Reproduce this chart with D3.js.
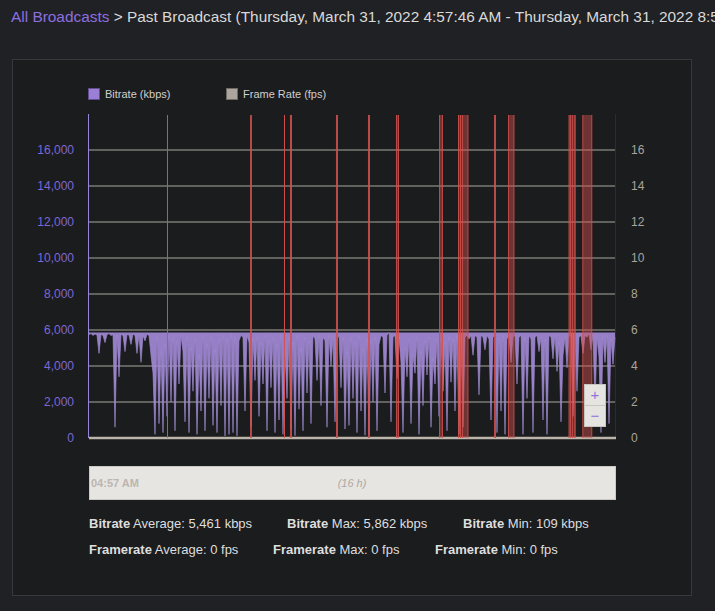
<!DOCTYPE html>
<html>
<head>
<meta charset="utf-8">
<style>
    body { margin: 0; background: #202124; }
    svg text { font-family: "Liberation Sans", Arial, sans-serif; }
</style>
</head>
<body>
<div id="chart"></div>
<script src="https://cdn.jsdelivr.net/npm/d3@7/dist/d3.min.js"></script>
<script>

//////////////////// data ////////////////////
let START = new Date(2022, 2, 31, 4, 57, 46);
let SPAN_MIN = 960;
let STEP_MIN = SPAN_MIN * 2 / 527;

// bitrate (kbps), one sample every STEP_MIN minutes
let bitrate = [
    5750, 5800, 5700, 5780, 5720, 4700, 5760, 5700, 5300, 5750, 5800, 5700, 5740, 600, 5700, 3400,
    5760, 5700, 4800, 5750, 5720, 5200, 5780, 5700, 4700, 5750, 4200, 5700, 5400, 5760, 5700, 4600, 3600,
    200, 5600, 800, 4800, 300, 5200, 1200,
    5700, 2000, 5600, 400, 5400, 3000, 5700,
    4800, 900, 5600, 300, 5000, 2600, 5500, 200, 4600, 1500, 5700, 400, 5200, 2200, 5600, 700, 4900, 300, 5500, 1800,
    5700, 109, 5500, 200, 5800, 300, 5600, 120, 5400,
    5700, 5600, 1500, 5700, 5300, 600,
    5500, 3200, 5600, 1200, 5300, 3000, 5700, 400, 5400, 2800,
    5600, 300, 5200, 1000, 5700, 200, 4800, 2200, 5600, 500, 5300, 130, 5700, 1600, 5000, 400, 5600, 2500, 5400, 800,
    5700, 5500, 3200, 5700, 1800, 5600, 5400, 600, 5700, 4000, 5600, 900, 5500, 5700, 2800, 5600, 500,
    4800, 700, 5600, 2200, 5300, 300, 5700, 1500, 5000, 150, 5500, 200, 5400, 2000, 5600, 400, 5200,
    5700, 5600, 2500, 5700, 5862, 900, 5600, 5700, 3300, 5600,
    4200, 300, 5000, 3400, 5500, 800, 4600, 3600, 5600, 200, 4800, 1800, 5400, 3500, 5600, 600, 4400, 3000, 5500, 1200,
    5600, 2600, 5300, 400, 5600, 3100, 5500, 1500, 5700, 200,
    5700, 600, 5600, 5700, 5500, 5700, 4600, 5700, 5600, 2400, 5700, 5600, 4900, 5700, 5500, 1000,
    5600, 5700, 300, 5600, 1500, 5700, 200, 5500, 5700, 4200, 5600, 5700, 3000, 5600, 5700, 200,
    5600, 2200, 5700, 5500, 300, 5600, 5700, 4800, 5600, 1000, 5500, 200, 5700, 5600, 4400, 5700,
    3700, 5300, 900, 4600, 5600, 3900, 5700, 5600, 1200, 5700, 2600, 5600, 5700, 4700, 5700, 5600,
    5800, 4900, 5700, 1800, 5600, 4500, 300, 5600, 4200, 5700, 800, 5500, 4100, 5600
];

// frame rate (fps)
let frameRateMin = [0, 240, 480, 720, 960];
let frameRate = [0, 0, 0, 0, 0];

// disconnect periods [from, to] in minutes after start
let bandFrom = [142.1, 293.3, 355.2, 366.1, 449.9, 508.2, 559.2, 637.6, 672.2, 675.8, 679.5, 737.7, 763.3, 873.5, 879.3, 882.6, 898.6];
let bandTo   = [143.6, 296.9, 357.0, 369.8, 453.6, 511.9, 564.7, 644.8, 674.9, 678.6, 691.3, 741.4, 775.1, 878.0, 881.1, 886.6, 916.8];

let bitrateTicks = [0, 2000, 4000, 6000, 8000, 10000, 12000, 14000, 16000];
let fpsTicks = [0, 2, 4, 6, 8, 10, 12, 14, 16];

let stats1 = [["Bitrate", " Average: 5,461 kbps"], ["Bitrate", " Max: 5,862 kbps"], ["Bitrate", " Min: 109 kbps"]];
let stats2 = [["Framerate", " Average: 0 fps"], ["Framerate", " Max: 0 fps"], ["Framerate", " Min: 0 fps"]];

//////////////////// layout ////////////////////
let W = 715, H = 611;
let PX0 = 89, PX1 = 616, PY0 = 114, PY1 = 438;

let svg = d3.select('#chart').append('svg')
    .attr('width', W)
    .attr('height', H);

svg.append('rect').attr('width', W).attr('height', H).attr('fill', '#202124');

// header
let header = svg.append('text')
    .attr('x', 11).attr('y', 22)
    .attr('font-size', 15.4);
header.append('tspan').attr('fill', '#8d6fe0').text('All Broadcasts');
header.append('tspan').attr('fill', '#d9d9d9')
    .text(' > Past Broadcast (Thursday, March 31, 2022 4:57:46 AM - Thursday, March 31, 2022 8:5');

// panel
svg.append('rect')
    .attr('x', 12.5).attr('y', 59.5)
    .attr('width', 679).attr('height', 536)
    .attr('fill', '#1b1c1e')
    .attr('stroke', '#37383b');

//////////////////// scales ////////////////////
let x = d3.scaleTime()
    .domain([START, d3.timeMinute.offset(START, SPAN_MIN)])
    .range([PX0, PX1]);
let yB = d3.scaleLinear().domain([0, 18000]).range([PY1, PY0]);
let yF = d3.scaleLinear().domain([0, 18]).range([PY1, PY0]);

let tAt = m => new Date(START.getTime() + m * 60000);

// legend
let legend = [["Bitrate (kbps)", '#9b7fd6', '#5f4d8e', 88], ["Frame Rate (fps)", '#aba59d', '#6f6b66', 226]];
legend.forEach(l => {
    svg.append('rect')
        .attr('x', l[3] + 0.5).attr('y', 88.5).attr('width', 11).attr('height', 11)
        .attr('fill', l[1]).attr('stroke', l[2]);
    svg.append('text')
        .attr('x', l[3] + 17).attr('y', 98)
        .attr('font-size', 11).attr('fill', '#cfcfcf')
        .text(l[0]);
});

// grid
svg.append('g')
    .selectAll('line')
    .data(bitrateTicks)
    .join('line')
    .attr('x1', PX0).attr('x2', PX1)
    .attr('y1', d => yB(d)).attr('y2', d => yB(d))
    .attr('stroke', '#7a7874')
    .attr('stroke-width', 1.6);

// left axis
let axL = svg.append('g')
    .attr('transform', `translate(${PX0 - 1},0)`)
    .call(d3.axisLeft(yB).tickValues(bitrateTicks).tickSize(0).tickPadding(14).tickFormat(d3.format(',')));
axL.select('.domain').remove();
axL.selectAll('text').attr('fill', '#7d68d4').attr('font-size', 12).attr('font-family', '"Liberation Sans", Arial, sans-serif');
svg.append('line')
    .attr('x1', PX0 - 0.5).attr('x2', PX0 - 0.5)
    .attr('y1', PY0).attr('y2', PY1)
    .attr('stroke', '#9a86d8').attr('stroke-width', 1);

// right axis
let axR = svg.append('g')
    .attr('transform', `translate(${PX1},0)`)
    .call(d3.axisRight(yF).tickValues(fpsTicks).tickSize(0).tickPadding(15));
axR.select('.domain').remove();
axR.selectAll('text').attr('fill', '#aaa49b').attr('font-size', 12).attr('font-family', '"Liberation Sans", Arial, sans-serif');
svg.append('line')
    .attr('x1', PX1 - 0.5).attr('x2', PX1 - 0.5)
    .attr('y1', PY0).attr('y2', PY1)
    .attr('stroke', '#2a2b33');

// bitrate: dense line, the space between the drops and the top filled
let bx = (d, i) => x(tAt(i * STEP_MIN));
let bMax = d3.max(bitrate);
svg.append('path')
    .datum(bitrate)
    .attr('d', d3.area().x(bx).y0(yB(bMax)).y1(d => yB(d)))
    .attr('fill', '#a48bd9')
    .attr('fill-opacity', 0.9);
svg.append('path')
    .datum(bitrate)
    .attr('d', d3.line().x(bx).y(d => yB(d)))
    .attr('fill', 'none')
    .attr('stroke', '#a08ccf')
    .attr('stroke-opacity', 0.8)
    .attr('stroke-width', 0.8);

// frame rate line
let fLine = d3.line()
    .x((d, i) => x(tAt(frameRateMin[i])))
    .y(d => yF(d));
svg.append('path')
    .datum(frameRate)
    .attr('d', fLine)
    .attr('fill', 'none')
    .attr('stroke', '#bcb5aa')
    .attr('stroke-width', 2.5);

// disconnect bands
let bands = svg.append('g');
bandFrom.forEach((f, i) => {
    let x0 = x(tAt(f)), x1 = x(tAt(bandTo[i]));
    let w = Math.max(x1 - x0 - 1, 0);
    if (w > 1) {
        bands.append('rect')
            .attr('x', x0 + 0.5).attr('y', PY0 + 1)
            .attr('width', w).attr('height', PY1 - PY0 - 1)
            .attr('fill', 'rgba(214, 80, 78, 0.45)');
    }
    [x0 + 0.5, x0 + 0.5 + w].forEach(xx => {
        bands.append('line')
            .attr('x1', xx).attr('x2', xx)
            .attr('y1', PY0 + 1).attr('y2', PY1)
            .attr('stroke', '#d4514d').attr('stroke-opacity', 0.85).attr('stroke-width', 1);
    });
});

// zoom buttons
let zoom = svg.append('g').attr('transform', 'translate(584,384)');
['+', '\u2212'].forEach((s, i) => {
    zoom.append('rect')
        .attr('x', 0.5).attr('y', i * 21 + 0.5)
        .attr('width', 21).attr('height', 21)
        .attr('fill', '#e6e4e1').attr('stroke', '#c9c6c2');
    zoom.append('text')
        .attr('x', 11).attr('y', i * 21 + 16)
        .attr('text-anchor', 'middle')
        .attr('font-size', 15).attr('fill', '#8d74d8')
        .text(s);
});

// navigator
svg.append('rect')
    .attr('x', PX0 + 0.5).attr('y', 466.5)
    .attr('width', PX1 - PX0 - 1).attr('height', 33)
    .attr('fill', '#e7e5e1').attr('stroke', '#cdc8c1');
svg.append('text')
    .attr('x', PX0 + 2).attr('y', 487)
    .attr('font-size', 11).attr('font-weight', 'bold').attr('fill', '#bbb6b0')
    .text(d3.timeFormat('%I:%M %p')(START));
svg.append('text')
    .attr('x', 352).attr('y', 487)
    .attr('text-anchor', 'middle')
    .attr('font-size', 11).attr('font-style', 'italic').attr('fill', '#aca7a1')
    .text('(16 h)');

// stats
function statRow(items, xs, yy) {
    items.forEach((s, i) => {
        let t = svg.append('text').attr('x', xs[i]).attr('y', yy)
            .attr('font-size', 13).attr('fill', '#dedede');
        t.append('tspan').attr('font-weight', 'bold').text(s[0]);
        t.append('tspan').text(s[1]);
    });
}
statRow(stats1, [89, 287, 463], 528);
statRow(stats2, [89, 273, 435], 554);

</script>
</body>
</html>
